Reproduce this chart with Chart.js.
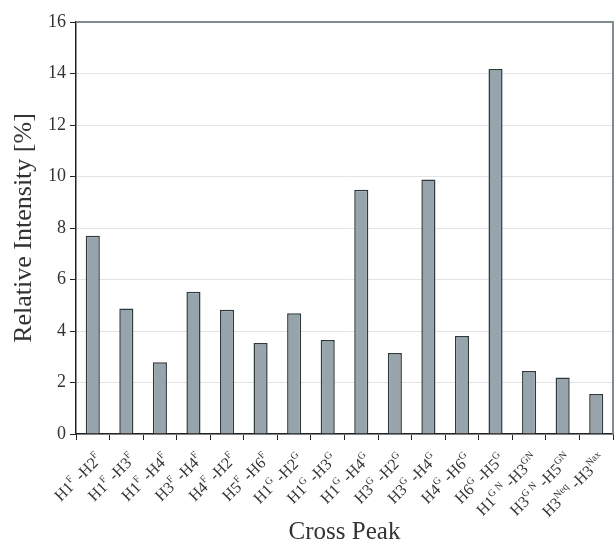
<!DOCTYPE html>
<html>
<head>
<meta charset="utf-8">
<script src="https://cdn.jsdelivr.net/npm/chart.js@4.4.1/dist/chart.umd.min.js"></script>
<style>
  body { margin: 0; background: #fff; }
  #wrap { width: 615px; height: 545px; }
</style>
</head>
<body>
<div id="wrap"><canvas id="peakChart"></canvas></div>
<script>
// labels use {..} for the superscript parts
const categories = [
  "H1{F} -H2{F}", "H1{F} -H3{F}", "H1{F} -H4{F}", "H3{F} -H4{F}",
  "H4{F} -H2{F}", "H5{F} -H6{F}", "H1{G} -H2{G}", "H1{G} -H3{G}",
  "H1{G} -H4{G}", "H3{G} -H2{G}", "H3{G} -H4{G}", "H4{G} -H6{G}",
  "H6{G} -H5{G}", "H1{G N} -H3{GN}", "H3{G N} -H5{GN}", "H3{Neq} -H3{Nax}"
];
const intensities = [7.7, 4.87, 2.79, 5.52, 4.83, 3.53, 4.69, 3.65, 9.49, 3.15, 9.88, 3.81, 14.17, 2.45, 2.19, 1.55];
const yTicks = [0, 2, 4, 6, 8, 10, 12, 14, 16];
const yTitle = "Relative Intensity [%]";
const xTitle = "Cross Peak";

const serif = "'Liberation Serif', 'DejaVu Serif', serif";
const textColor = "#333";

function parseLabel(s) {
  let parts = [];
  let re = /([^{]*)\{([^}]*)\}/g;
  let m;
  while ((m = re.exec(s)) !== null) {
    if (m[1]) parts.push({ text: m[1], sup: false });
    parts.push({ text: m[2], sup: true });
  }
  return parts;
}

// rotated category labels with superscripts
const peakLabels = {
  id: "peakLabels",
  afterDraw(chart) {
    const xs = chart.scales.x;
    const c = chart.ctx;
    c.save();
    c.fillStyle = textColor;
    c.textAlign = "left";
    c.textBaseline = "alphabetic";
    categories.forEach((lab, i) => {
      const parts = parseLabel(lab);
      let w = 0;
      parts.forEach((p) => {
        c.font = (p.sup ? "10px " : "16px ") + serif;
        p.w = c.measureText(p.text).width;
        w += p.w;
      });
      c.save();
      c.translate(xs.getPixelForTick(i) + 10, xs.top + 26);
      c.rotate(-Math.PI / 4);
      let pos = -w;
      parts.forEach((p) => {
        c.font = (p.sup ? "10px " : "16px ") + serif;
        c.fillText(p.text, pos, p.sup ? -7 : 0);
        pos += p.w;
      });
      c.restore();
    });
    c.restore();
  }
};

// grey frame on top and right
const frame = {
  id: "frame",
  afterDatasetsDraw(chart) {
    const a = chart.chartArea;
    const c = chart.ctx;
    c.save();
    c.strokeStyle = "#7f8b92";
    c.lineWidth = 2;
    c.beginPath();
    c.moveTo(a.left, a.top);
    c.lineTo(a.right, a.top);
    c.lineTo(a.right, a.bottom);
    c.stroke();
    c.restore();
  }
};

const ctx = document.getElementById("peakChart").getContext("2d");
new Chart(ctx, {
  type: "bar",
  data: {
    labels: categories,
    datasets: [{
      data: intensities,
      backgroundColor: "#98a4ac",
      borderColor: "#2e3a3e",
      borderWidth: 1.5,
      barPercentage: 0.42,
      categoryPercentage: 1
    }]
  },
  options: {
    responsive: true,
    maintainAspectRatio: false,
    animation: false,
    layout: { padding: { top: 22, right: 2, bottom: 0, left: 0 } },
    plugins: {
      legend: { display: false },
      tooltip: { enabled: false }
    },
    scales: {
      x: {
        grid: { drawOnChartArea: false, tickLength: 6, tickColor: "#222", offset: true },
        border: { color: "#222", width: 1.5 },
        ticks: { display: false },
        title: {
          display: true, text: xTitle, color: textColor,
          font: { family: serif, size: 25, lineHeight: 1 }, padding: { top: 0, bottom: 0 }
        },
        afterFit(scale) { scale.height = 111; }
      },
      y: {
        min: 0,
        max: 16,
        afterBuildTicks(scale) { scale.ticks = yTicks.map((v) => ({ value: v })); },
        grid: {
          color: (c) => (c.tick && c.tick.value === 16 ? "#7f8b92" : "#e3e3e8"),
          tickColor: "#222",
          tickLength: 6
        },
        border: { color: "#222", width: 1.5 },
        ticks: { color: textColor, font: { family: serif, size: 18 }, padding: 4 },
        title: {
          display: true, text: yTitle, color: textColor,
          font: { family: serif, size: 26, lineHeight: 1.2 }, padding: { top: 9, bottom: 0 }
        },
        afterFit(scale) { scale.width = 76; }
      }
    }
  },
  plugins: [peakLabels, frame]
});
</script>
</body>
</html>
